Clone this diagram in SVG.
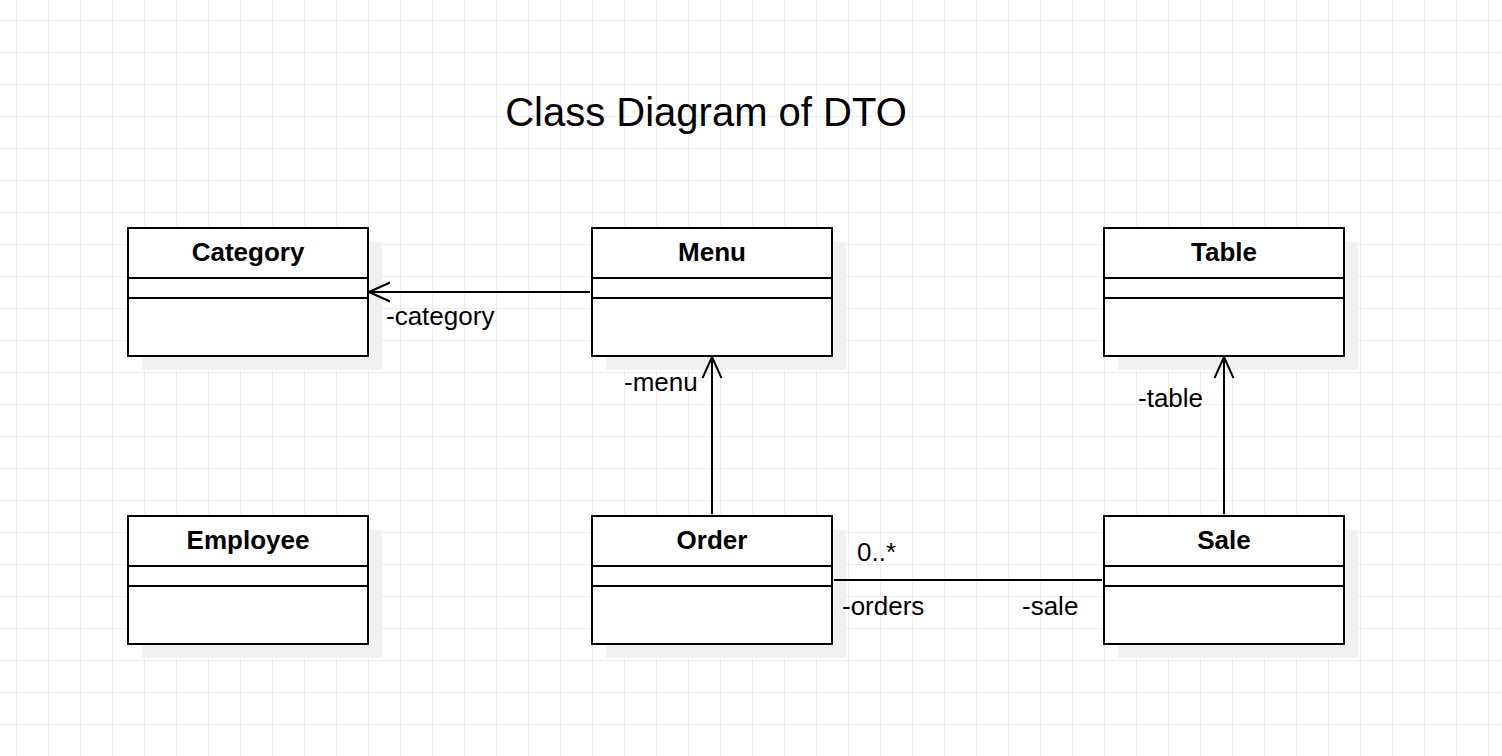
<svg xmlns="http://www.w3.org/2000/svg" width="1502" height="756" viewBox="0 0 1502 756">
<defs>
<pattern id="grid" x="16" y="20" width="32" height="32" patternUnits="userSpaceOnUse">
<path d="M0.5 0V32M0 0.5H32" fill="none" stroke="#ececec" stroke-width="1.2"/>
</pattern>
<marker id="open" viewBox="0 0 24 22" refX="23" refY="11" markerWidth="24" markerHeight="22" markerUnits="userSpaceOnUse" orient="auto">
<path d="M2 1.5L23 11L2 20.5" fill="none" stroke="#000" stroke-width="2"/>
</marker>
</defs>
<style>
.shadow{fill:#f1f1f1}
.box{fill:#fff;stroke:#000;stroke-width:2}
.sep{stroke:#000;stroke-width:2}
.name{font-family:"Liberation Sans",Arial,sans-serif;font-size:26px;font-weight:bold;text-anchor:middle;fill:#000}
.lbl{font-family:"Liberation Sans",Arial,sans-serif;font-size:26px;fill:#000}
.edge{fill:none;stroke:#000;stroke-width:2}
</style>
<rect width="1502" height="756" fill="#fff"/>
<rect width="1502" height="756" fill="url(#grid)"/>
<text x="706" y="126" font-family="'Liberation Sans',Arial,sans-serif" font-size="40" text-anchor="middle">Class Diagram of DTO</text>

<g id="category">
<rect class="shadow" x="142" y="242" width="240" height="128"/>
<rect class="box" x="128" y="228" width="240" height="128"/>
<line class="sep" x1="128" y1="278" x2="368" y2="278"/>
<line class="sep" x1="128" y1="298" x2="368" y2="298"/>
<text class="name" x="248" y="261">Category</text>
</g>
<g id="menu">
<rect class="shadow" x="606" y="242" width="240" height="128"/>
<rect class="box" x="592" y="228" width="240" height="128"/>
<line class="sep" x1="592" y1="278" x2="832" y2="278"/>
<line class="sep" x1="592" y1="298" x2="832" y2="298"/>
<text class="name" x="712" y="261">Menu</text>
</g>
<g id="table">
<rect class="shadow" x="1118" y="242" width="240" height="128"/>
<rect class="box" x="1104" y="228" width="240" height="128"/>
<line class="sep" x1="1104" y1="278" x2="1344" y2="278"/>
<line class="sep" x1="1104" y1="298" x2="1344" y2="298"/>
<text class="name" x="1224" y="261">Table</text>
</g>
<g id="employee">
<rect class="shadow" x="142" y="530" width="240" height="128"/>
<rect class="box" x="128" y="516" width="240" height="128"/>
<line class="sep" x1="128" y1="566" x2="368" y2="566"/>
<line class="sep" x1="128" y1="586" x2="368" y2="586"/>
<text class="name" x="248" y="549">Employee</text>
</g>
<g id="order">
<rect class="shadow" x="606" y="530" width="240" height="128"/>
<rect class="box" x="592" y="516" width="240" height="128"/>
<line class="sep" x1="592" y1="566" x2="832" y2="566"/>
<line class="sep" x1="592" y1="586" x2="832" y2="586"/>
<text class="name" x="712" y="549">Order</text>
</g>
<g id="sale">
<rect class="shadow" x="1118" y="530" width="240" height="128"/>
<rect class="box" x="1104" y="516" width="240" height="128"/>
<line class="sep" x1="1104" y1="566" x2="1344" y2="566"/>
<line class="sep" x1="1104" y1="586" x2="1344" y2="586"/>
<text class="name" x="1224" y="549">Sale</text>
</g>

<g id="connectors">
<path class="edge" d="M590 292H369" marker-end="url(#open)"/>
<text class="lbl" x="386" y="325">-category</text>
<path class="edge" d="M712 514V357" marker-end="url(#open)"/>
<text class="lbl" x="624" y="391">-menu</text>
<path class="edge" d="M1224 514V357" marker-end="url(#open)"/>
<text class="lbl" x="1138" y="407">-table</text>
<path class="edge" d="M834 580H1102"/>
<text class="lbl" x="857" y="561">0..*</text>
<text class="lbl" x="842" y="615">-orders</text>
<text class="lbl" x="1022" y="615">-sale</text>
</g>
</svg>
